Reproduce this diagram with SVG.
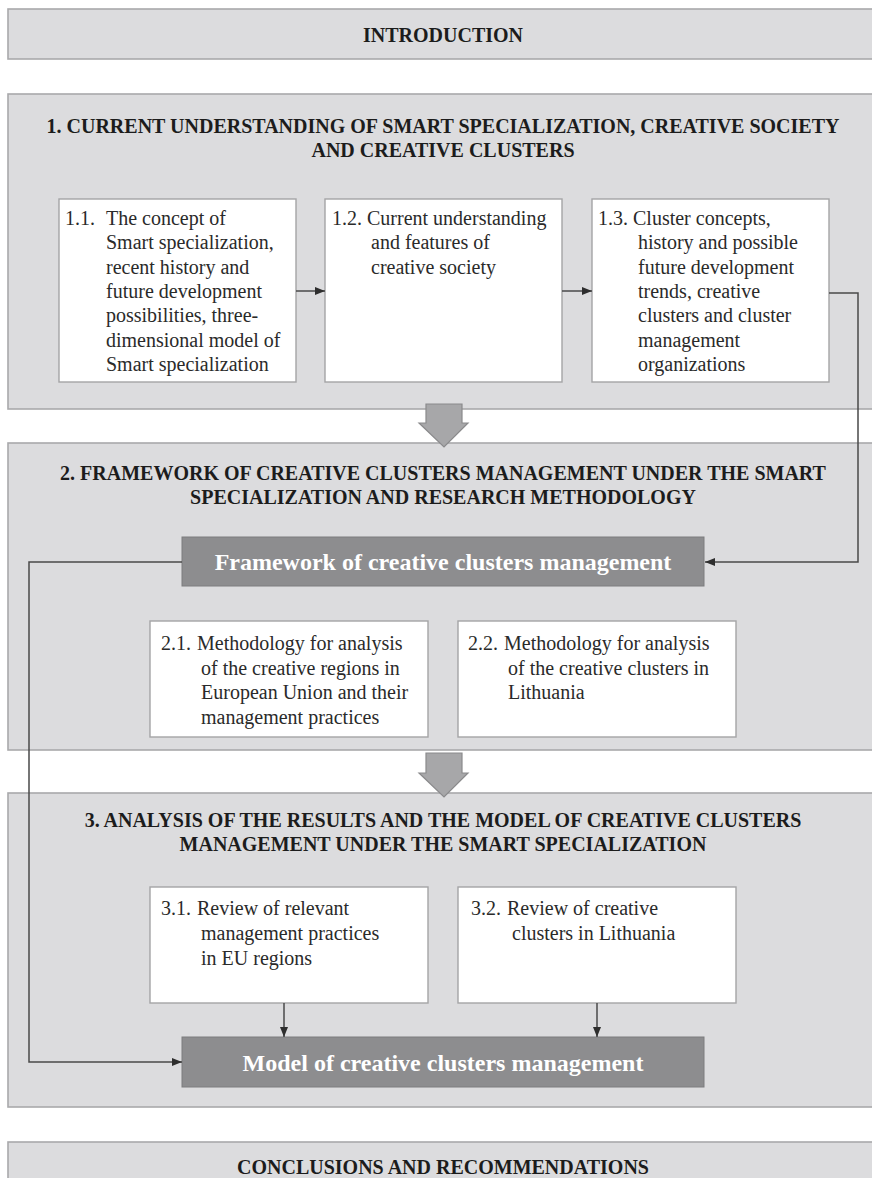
<svg xmlns="http://www.w3.org/2000/svg" width="872" height="1178" viewBox="0 0 872 1178">
  <defs>
    <style>
      .band { fill: #dcdcde; stroke: #a9a9ab; stroke-width: 1.6; }
      .card { fill: #ffffff; stroke: #a4a4a6; stroke-width: 1.4; }
      .dark { fill: #8d8d8f; stroke: #7c7c7e; stroke-width: 1; }
      .head { font-family: "Liberation Serif", "Times New Roman", serif; font-weight: bold; font-size: 20px; fill: #1c1c1c; text-anchor: middle; }
      .body { font-family: "Liberation Serif", "Times New Roman", serif; font-size: 20px; fill: #2a2a2a; }
      .big { font-family: "Liberation Serif", "Times New Roman", serif; font-weight: bold; font-size: 24px; fill: #ffffff; text-anchor: middle; }
      .wire { fill: none; stroke: #4a4a4a; stroke-width: 1.5; }
      .flow { fill: #a7a7a9; stroke: #8a8a8c; stroke-width: 1.2; }
    </style>
    <marker id="tip" viewBox="0 0 10 8" refX="10" refY="4" markerWidth="10" markerHeight="8" markerUnits="userSpaceOnUse" orient="auto">
      <path d="M0,0 L10,4 L0,8 Z" fill="#2e2e2e"/>
    </marker>
  </defs>

  <rect width="872" height="1178" fill="#ffffff"/>

  <!-- Introduction band -->
  <g id="introduction">
    <rect class="band" x="8" y="9" width="880" height="50"/>
    <text class="head" x="443" y="42">INTRODUCTION</text>
  </g>

  <!-- Section 1 -->
  <g id="section1">
    <rect class="band" x="8" y="94" width="880" height="315"/>
    <text class="head" x="443" y="133">1. CURRENT UNDERSTANDING OF SMART SPECIALIZATION, CREATIVE SOCIETY</text>
    <text class="head" x="443" y="157">AND CREATIVE CLUSTERS</text>
  </g>

  <g id="box11">
    <rect class="card" x="59" y="199" width="237" height="183"/>
    <text class="body">
      <tspan x="65" y="225">1.1.</tspan><tspan x="106" y="225">The concept of</tspan>
      <tspan x="106" y="249.3">Smart specialization,</tspan>
      <tspan x="106" y="273.6">recent history and</tspan>
      <tspan x="106" y="297.9">future development</tspan>
      <tspan x="106" y="322.2">possibilities, three-</tspan>
      <tspan x="106" y="346.5">dimensional model of</tspan>
      <tspan x="106" y="370.8">Smart specialization</tspan>
    </text>
  </g>

  <g id="box12">
    <rect class="card" x="325" y="199" width="237" height="183"/>
    <text class="body">
      <tspan x="332" y="225">1.2.</tspan><tspan x="367" y="225">Current understanding</tspan>
      <tspan x="371" y="249.3">and features of</tspan>
      <tspan x="371" y="273.6">creative society</tspan>
    </text>
  </g>

  <g id="box13">
    <rect class="card" x="592" y="199" width="237" height="183"/>
    <text class="body">
      <tspan x="598" y="225">1.3.</tspan><tspan x="633" y="225">Cluster concepts,</tspan>
      <tspan x="638" y="249.3">history and possible</tspan>
      <tspan x="638" y="273.6">future development</tspan>
      <tspan x="638" y="297.9">trends, creative</tspan>
      <tspan x="638" y="322.2">clusters and cluster</tspan>
      <tspan x="638" y="346.5">management</tspan>
      <tspan x="638" y="370.8">organizations</tspan>
    </text>
  </g>

  <!-- Section 2 -->
  <g id="section2">
    <rect class="band" x="8" y="443" width="880" height="307"/>
    <text class="head" x="443" y="480">2. FRAMEWORK OF CREATIVE CLUSTERS MANAGEMENT UNDER THE SMART</text>
    <text class="head" x="443" y="504">SPECIALIZATION AND RESEARCH METHODOLOGY</text>
  </g>

  <g id="framework">
    <rect class="dark" x="182" y="537" width="522" height="49"/>
    <text class="big" x="443" y="570">Framework of creative clusters management</text>
  </g>

  <g id="box21">
    <rect class="card" x="150" y="621" width="278" height="116"/>
    <text class="body">
      <tspan x="161" y="650">2.1.</tspan><tspan x="197" y="650">Methodology for analysis</tspan>
      <tspan x="201" y="674.5">of the creative regions in</tspan>
      <tspan x="201" y="699">European Union and their</tspan>
      <tspan x="201" y="723.5">management practices</tspan>
    </text>
  </g>

  <g id="box22">
    <rect class="card" x="458" y="621" width="278" height="116"/>
    <text class="body">
      <tspan x="468" y="650">2.2.</tspan><tspan x="504" y="650">Methodology for analysis</tspan>
      <tspan x="508" y="674.5">of the creative clusters in</tspan>
      <tspan x="508" y="699">Lithuania</tspan>
    </text>
  </g>

  <!-- Section 3 -->
  <g id="section3">
    <rect class="band" x="8" y="793" width="880" height="314"/>
    <text class="head" x="443" y="827">3. ANALYSIS OF THE RESULTS AND THE MODEL OF CREATIVE CLUSTERS</text>
    <text class="head" x="443" y="851">MANAGEMENT UNDER THE SMART SPECIALIZATION</text>
  </g>

  <g id="box31">
    <rect class="card" x="150" y="887" width="278" height="116"/>
    <text class="body">
      <tspan x="161" y="915">3.1.</tspan><tspan x="197" y="915">Review of relevant</tspan>
      <tspan x="201" y="940">management practices</tspan>
      <tspan x="201" y="965">in EU regions</tspan>
    </text>
  </g>

  <g id="box32">
    <rect class="card" x="458" y="887" width="278" height="116"/>
    <text class="body">
      <tspan x="471" y="915">3.2.</tspan><tspan x="507" y="915">Review of creative</tspan>
      <tspan x="512" y="940">clusters in Lithuania</tspan>
    </text>
  </g>

  <g id="model">
    <rect class="dark" x="182" y="1037" width="522" height="50"/>
    <text class="big" x="443" y="1071">Model of creative clusters management</text>
  </g>

  <!-- Conclusions band -->
  <g id="conclusions">
    <rect class="band" x="8" y="1142" width="880" height="60"/>
    <text class="head" x="443" y="1174">CONCLUSIONS AND RECOMMENDATIONS</text>
  </g>

  <!-- Connectors -->
  <g id="connectors">
    <path class="flow" d="M426,404 H462 V423 H468 L444,447 L419,423 H426 Z"/>
    <path class="flow" d="M426,753 H462 V773 H468 L444,797 L419,773 H426 Z"/>
    <path class="wire" d="M296,291 H325" marker-end="url(#tip)"/>
    <path class="wire" d="M562,291 H592" marker-end="url(#tip)"/>
    <path class="wire" d="M829,293 H858 V562 H705" marker-end="url(#tip)"/>
    <path class="wire" d="M182,562 H29 V1062 H182" marker-end="url(#tip)"/>
    <path class="wire" d="M284,1003 V1037" marker-end="url(#tip)"/>
    <path class="wire" d="M597,1003 V1037" marker-end="url(#tip)"/>
  </g>
</svg>
